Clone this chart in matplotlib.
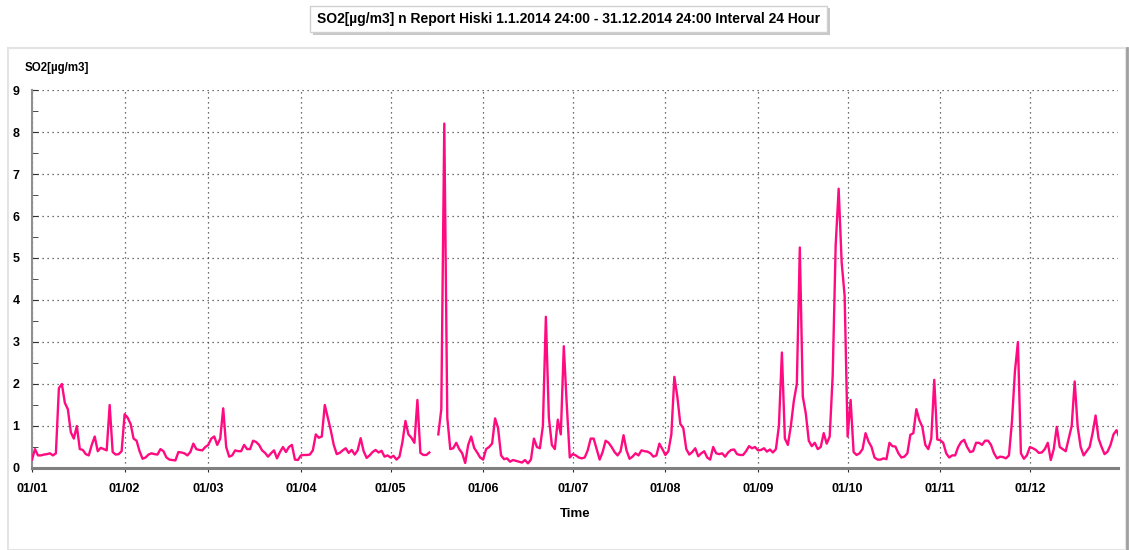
import numpy as np
import pandas as pd
import matplotlib
matplotlib.use('Agg')
import matplotlib.pyplot as plt
import matplotlib.dates as mdates
from matplotlib.patches import Rectangle
from matplotlib.lines import Line2D

plt.rcParams['font.family'] = ['Liberation Sans', 'DejaVu Sans']
plt.rcParams['font.weight'] = 'bold'

# daily SO2 means 2014 (nan = missing days)
jan = [0.2, 0.45, 0.3, 0.3, 0.32, 0.33, 0.35, 0.3, 0.35, 1.9, 2.0, 1.55, 1.4, 0.85, 0.7, 1.0,
       0.45, 0.43, 0.33, 0.3, 0.55, 0.75, 0.4, 0.48, 0.45, 0.42, 1.5, 0.38, 0.32, 0.33, 0.4]
feb = [1.28, 1.2, 1.05, 0.7, 0.65, 0.4, 0.22, 0.25, 0.32, 0.35, 0.33, 0.32, 0.45, 0.4,
       0.25, 0.2, 0.19, 0.18, 0.38, 0.37, 0.35, 0.3, 0.38, 0.58, 0.45, 0.43, 0.42, 0.5]
mar = [0.55, 0.7, 0.75, 0.55, 0.7, 1.42, 0.5, 0.27, 0.3, 0.42, 0.4, 0.4, 0.55, 0.45, 0.45,
       0.65, 0.62, 0.55, 0.42, 0.36, 0.27, 0.35, 0.42, 0.23, 0.38, 0.5, 0.38, 0.5, 0.55, 0.2, 0.19]
apr = [0.3, 0.31, 0.31, 0.32, 0.42, 0.8, 0.72, 0.75, 1.5, 1.2, 0.9, 0.55, 0.33, 0.36, 0.42,
       0.47, 0.36, 0.43, 0.32, 0.42, 0.71, 0.4, 0.24, 0.3, 0.38, 0.43, 0.37, 0.41, 0.27, 0.3]
may = [0.25, 0.29, 0.2, 0.27, 0.62, 1.12, 0.8, 0.72, 0.6, 1.62, 0.36, 0.31, 0.31, 0.37,
       np.nan, np.nan, 0.8, 1.4, 8.2, 1.2, 0.45, 0.47, 0.6, 0.45, 0.35, 0.12, 0.55, 0.75,
       0.48, 0.37, 0.25]
jun = [0.2, 0.45, 0.5, 0.58, 1.18, 0.95, 0.3, 0.21, 0.23, 0.15, 0.19, 0.17, 0.15, 0.13,
       0.19, 0.11, 0.2, 0.7, 0.5, 0.47, 1.0, 3.6, 1.2, 0.55, 0.45, 1.15, 0.8, 2.9, 1.5, 0.25]
jul = [0.33, 0.3, 0.25, 0.23, 0.25, 0.42, 0.7, 0.7, 0.45, 0.2, 0.38, 0.65, 0.6, 0.5, 0.38,
       0.3, 0.4, 0.78, 0.42, 0.22, 0.27, 0.35, 0.3, 0.42, 0.4, 0.39, 0.35, 0.27, 0.3, 0.58, 0.45]
aug = [0.31, 0.4, 0.8, 2.17, 1.7, 1.05, 0.95, 0.45, 0.32, 0.38, 0.47, 0.28, 0.35, 0.4, 0.25,
       0.2, 0.5, 0.35, 0.33, 0.35, 0.27, 0.37, 0.43, 0.44, 0.33, 0.31, 0.31, 0.4, 0.52, 0.47, 0.5]
sep = [0.42, 0.43, 0.47, 0.39, 0.44, 0.37, 0.45, 1.0, 2.75, 0.7, 0.55, 1.0, 1.6, 2.0, 5.25,
       1.7, 1.3, 0.65, 0.52, 0.6, 0.45, 0.5, 0.83, 0.58, 0.75, 2.2, 5.3, 6.65, 4.9, 4.1]
oct_ = [0.75, 1.62, 0.38, 0.31, 0.35, 0.45, 0.83, 0.63, 0.5, 0.25, 0.2, 0.2, 0.23, 0.21,
        0.6, 0.52, 0.51, 0.35, 0.25, 0.27, 0.35, 0.79, 0.83, 1.4, 1.14, 0.98, 0.55, 0.45,
        0.7, 2.1, 0.68]
nov = [0.66, 0.6, 0.35, 0.25, 0.3, 0.3, 0.5, 0.62, 0.67, 0.5, 0.38, 0.4, 0.6, 0.6, 0.55,
       0.65, 0.65, 0.55, 0.35, 0.23, 0.27, 0.26, 0.23, 0.3, 1.1, 2.3, 3.0, 0.35, 0.22, 0.3]
dec = [0.5, 0.47, 0.43, 0.36, 0.37, 0.45, 0.6, 0.19, 0.45, 0.98, 0.5, 0.45, 0.4, 0.7, 1.0,
       2.06, 0.98, 0.5, 0.3, 0.4, 0.5, 0.83, 1.25, 0.7, 0.5, 0.33, 0.39, 0.55, 0.8, 0.9, 0.72]

so2 = np.array(jan + feb + mar + apr + may + jun + jul + aug + sep + oct_ + nov + dec)
days = pd.date_range('2014-01-01', periods=len(so2), freq='D')

title = "SO2[\u00b5g/m3] n Report Hiski 1.1.2014 24:00 - 31.12.2014 24:00 Interval 24 Hour"
unit_label = "SO2[\u00b5g/m3]"

W, H = 1129, 550
fig = plt.figure(figsize=(W / 100, H / 100), dpi=100)

# outer report panel (behind the axes)
fig.patches.append(Rectangle((8 / W, 0), (1126 - 8) / W, 1 - 48 / H, transform=fig.transFigure,
                             facecolor='white', edgecolor='#e4e4e4', lw=1.5, zorder=-2))
fig.lines.append(Line2D([1127 / W, 1127 / W], [0, 1 - 48 / H], transform=fig.transFigure,
                        color='#a0a0a0', lw=2, zorder=-1))

ax = fig.add_axes([32 / W, 82 / H, (1118 - 32) / W, (468 - 90) / H])
ax.patch.set_alpha(0)
ax.plot(days, so2, color='#ff0a80', lw=1.7, zorder=3)

ax.set_xlim(pd.Timestamp('2014-01-01'), pd.Timestamp('2014-12-30 12:00'))
ax.set_ylim(0, 9)
ax.set_yticks(range(10))
ax.set_yticks(np.arange(0.5, 9, 1.0), minor=True)
ax.xaxis.set_major_locator(mdates.MonthLocator())
ax.xaxis.set_major_formatter(mdates.DateFormatter('%d/%m'))

ax.grid(True, which='major', color='#404040', ls=(0, (1, 3)), lw=0.9)
for s in ['top', 'right']:
    ax.spines[s].set_visible(False)
ax.spines['left'].set_color('#909090')
ax.spines['left'].set_linewidth(1.5)
ax.spines['bottom'].set_color('#808080')
ax.spines['bottom'].set_linewidth(2.2)

ax.tick_params(axis='y', which='both', direction='in', length=4, color='#303030',
               labelsize=9, pad=9)
ax.tick_params(axis='x', direction='out', length=3, color='#303030', labelsize=9, pad=8)
for lab in ax.get_xticklabels() + ax.get_yticklabels():
    lab.set_fontweight('bold')

ax.set_xlabel('Time', fontsize=9.5, fontweight='bold', labelpad=9)
fig.text(25 / W, 1 - 68 / H, unit_label, fontsize=8.3, fontweight='bold', va='center', ha='left')

# title box with a small drop shadow like the report header
fig.patches.append(Rectangle((313 / W, 1 - 35 / H), (830 - 313) / W, 27 / H,
                             transform=fig.transFigure, facecolor='#c8c8c8',
                             edgecolor='none', zorder=1))
fig.patches.append(Rectangle((310 / W, 1 - 32 / H), (827 - 310) / W, 26 / H,
                             transform=fig.transFigure, facecolor='white',
                             edgecolor='#d0d0d0', lw=1, zorder=2))
fig.text(569 / W, 1 - 19 / H, title, fontsize=10.0, fontweight='bold', ha='center',
         va='center', zorder=3)

fig.savefig('out.png', dpi=100)
